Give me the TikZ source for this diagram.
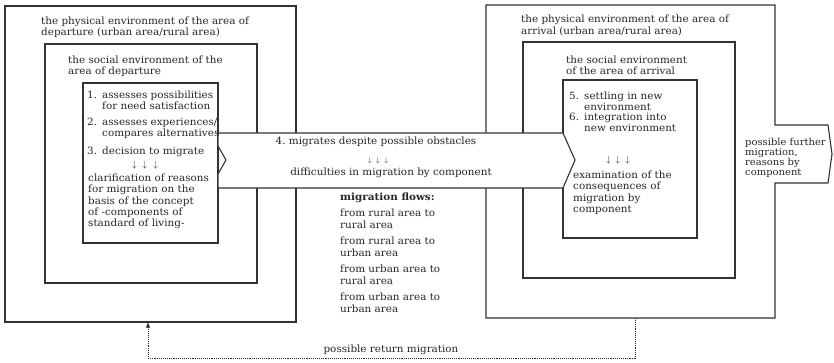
\documentclass[tikz,border=0pt]{standalone}
\usepackage{fontspec}
\setmainfont[FakeStretch=1.04]{DejaVu Serif}
\usetikzlibrary{arrows.meta}

\tikzset{
  frame/.style={line width=1.1pt, draw=black!80},
  band/.style={frame, fill=white},
  txt/.style={anchor=north west, inner sep=0pt, align=left, text=black!85,
              font=\fontsize{10}{11.2}\selectfont},
  dots/.style={inner sep=0pt, text=black!85, font=\small},
  retline/.style={line width=0.9pt, densely dotted, draw=black!85},
}
\newcommand{\threedown}[1]{$\downarrow\hspace{#1}\downarrow\hspace{#1}\downarrow$}

\begin{document}
\begin{tikzpicture}[x=1pt,y=-1pt,>=latex]
\useasboundingbox (0,0) rectangle (834,363);

% area of departure
\draw[frame] (5,6) rectangle (296,322);
\draw[frame] (45,44) rectangle (257,283);
\draw[frame] (83,83) rectangle (218,243);

% area of arrival
\draw[frame] (486,5) -- (775,5) -- (775,125) -- (828,125) -- (832,154)
  -- (828,183) -- (775,183) -- (775,318) -- (486,318) -- cycle;
\draw[frame] (523,42) rectangle (735,278);
\draw[frame] (563,80) rectangle (697,238);

% migration arrow
\draw[band] (218,133) -- (563,133) -- (575,160) -- (563,188) -- (218,188)
  -- (218,174) -- (226,160) -- (218,146) -- cycle;

% texts, departure
\node[txt] (depphys) at (41,17) {the physical environment of the area of\\departure (urban area/rural area)};
\node[txt] (depsoc)  at (68,56) {the social environment of the\\area of departure};
\node[txt] (step1n) at (87,91)  {1.};
\node[txt] (step1)  at (102,91) {assesses possibilities\\for need satisfaction};
\node[txt] (step2n) at (87,118) {2.};
\node[txt] (step2)  at (102,118) {assesses experiences/\\compares alternatives};
\node[txt] (step3n) at (87,147) {3.};
\node[txt] (step3)  at (102,147) {decision to migrate};
\node[dots] (depdots) at (145,165) {\threedown{6pt}};
\node[txt] (reasons) at (88,174) {clarification of reasons\\for migration on the\\basis of the concept\\of -components of\\standard of living-};

% texts, band
\node[txt, anchor=north] (step4) at (376,137) {4.\ migrates despite possible obstacles};
\node[dots, font=\scriptsize] (banddots) at (378,161) {\threedown{4pt}};
\node[txt, anchor=north] (difficult) at (391,168) {difficulties in migration by component};

% migration flows
\node[txt, font=\fontsize{10}{11.2}\selectfont\bfseries] (flows) at (340,193) {migration flows:};
\node[txt, font=\fontsize{10}{12}\selectfont] (flow1) at (340,209) {from rural area to\\rural area};
\node[txt, font=\fontsize{10}{12}\selectfont] (flow2) at (340,237) {from rural area to\\urban area};
\node[txt, font=\fontsize{10}{12}\selectfont] (flow3) at (340,265) {from urban area to\\rural area};
\node[txt, font=\fontsize{10}{12}\selectfont] (flow4) at (340,293) {from urban area to\\urban area};

% texts, arrival
\node[txt, font=\fontsize{10}{12}\selectfont] (arrphys) at (521,15) {the physical environment of the area of\\arrival (urban area/rural area)};
\node[txt] (arrsoc)  at (566,56) {the social environment\\of the area of arrival};
\node[txt] (step5n) at (569,92) {5.};
\node[txt] (step5)  at (584,92) {settling in new\\environment};
\node[txt] (step6n) at (569,113) {6.};
\node[txt] (step6)  at (584,113) {integration into\\new environment};
\node[dots] (arrdots) at (618,160) {\threedown{5pt}};
\node[txt] (consequ) at (573,171) {examination of the\\consequences of\\migration by\\component};
\node[txt, font=\fontsize{9.6}{10}\selectfont] (further) at (745,138) {possible further\\migration,\\reasons by\\component};

% return migration
\coordinate (retfrom) at (635,318);
\coordinate (retto) at (148,322);
\draw[retline,->] (retfrom) -- ++(0,40) -| (retto);
\node[txt, anchor=north] (return) at (391,345) {possible return migration};

\end{tikzpicture}
\end{document}
